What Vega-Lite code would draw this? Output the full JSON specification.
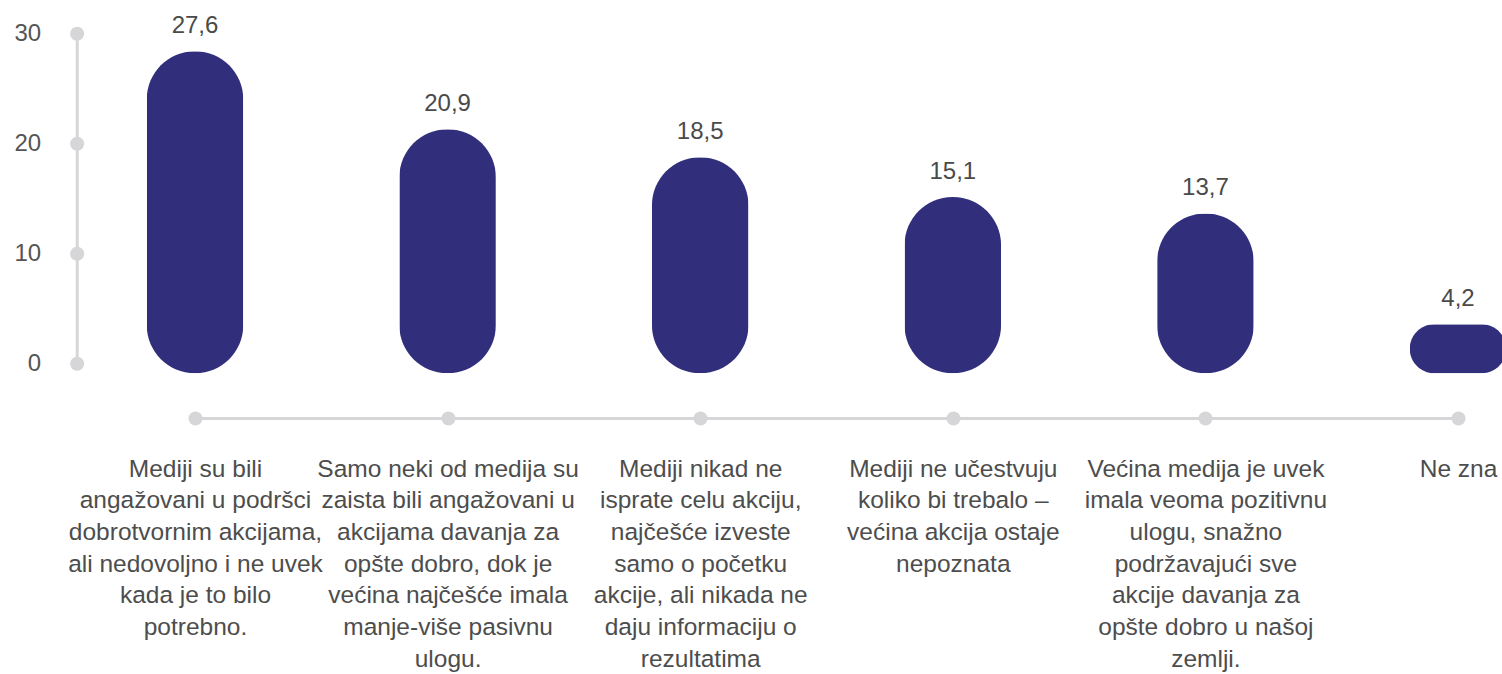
{
  "$schema": "https://vega.github.io/schema/vega-lite/v6.json",
  "width": 1263,
  "height": 330,
  "autosize": {"type": "none"},
  "padding": {"left": 195, "top": 33.3, "right": 44, "bottom": 310.7},
  "background": "white",
  "config": {
    "view": {"stroke": null},
    "font": "Liberation Sans",
    "locale": {"number": {"decimal": ",", "thousands": ".", "grouping": [3], "currency": ["", " €"]}}
  },
  "data": {
    "values": [
      {"answer": "Mediji su bili|angažovani u podršci|dobrotvornim akcijama,|ali nedovoljno i  ne uvek|kada je to bilo|potrebno.", "value": 27.6},
      {"answer": "Samo neki od medija su|zaista bili angažovani u|akcijama davanja za|opšte dobro, dok je|većina najčešće imala|manje-više pasivnu|ulogu.", "value": 20.9},
      {"answer": "Mediji nikad ne|isprate celu akciju,|najčešće izveste|samo o početku|akcije, ali nikada ne|daju informaciju o|rezultatima", "value": 18.5},
      {"answer": "Mediji ne učestvuju|koliko bi trebalo –|većina akcija ostaje|nepoznata", "value": 15.1},
      {"answer": "Većina medija je uvek|imala veoma pozitivnu|ulogu, snažno|podržavajući sve|akcije davanja za|opšte dobro u našoj|zemlji.", "value": 13.7},
      {"answer": "Ne zna", "value": 4.2}
    ]
  },
  "encoding": {
    "x": {
      "field": "answer",
      "type": "nominal",
      "sort": null,
      "scale": {"type": "point", "padding": 0},
      "axis": {
        "title": null,
        "offset": 54.7,
        "domain": true,
        "domainColor": "#d6d6d9",
        "domainWidth": 3,
        "ticks": true,
        "tickColor": "#d6d6d9",
        "tickWidth": 14,
        "tickSize": 0.1,
        "tickCap": "round",
        "labelExpr": "split(datum.label, '|')",
        "labelAngle": 0,
        "labelFontSize": 24.5,
        "labelColor": "#4d4d4d",
        "labelPadding": 39,
        "labelLineHeight": 31.7,
        "labelLimit": 0,
        "labelOverlap": false,
        "labelBound": false,
        "labelAlign": "center",
        "labelBaseline": "top",
        "labelFlush": false
      }
    }
  },
  "layer": [
    {
      "mark": {"type": "bar", "width": 96.5, "cornerRadius": 48, "color": "#312f7b"},
      "encoding": {
        "y": {"field": "value", "type": "quantitative", "scale": {"domain": [0.857, 29.13], "zero": false, "nice": false}, "axis": null}
      }
    },
    {
      "mark": {"type": "text", "dy": -25, "baseline": "middle", "fontSize": 24, "color": "#4a4a4a"},
      "encoding": {
        "y": {"field": "value", "type": "quantitative", "scale": {"domain": [0.857, 29.13], "zero": false, "nice": false}, "axis": null},
        "text": {"field": "value", "type": "quantitative", "format": ".1f"}
      }
    },
    {
      "mark": {"type": "point", "opacity": 0},
      "encoding": {
        "y": {
          "field": "value",
          "type": "quantitative",
          "scale": {"domain": [0, 30], "nice": false},
          "axis": {
            "title": null,
            "offset": 118.3,
            "values": [0, 10, 20, 30],
            "grid": false,
            "domain": true,
            "domainColor": "#d6d6d9",
            "domainWidth": 3,
            "ticks": true,
            "tickColor": "#d6d6d9",
            "tickWidth": 14,
            "tickSize": 0.1,
            "tickCap": "round",
            "labelPadding": 36,
            "labelFontSize": 24,
            "labelColor": "#555555"
          }
        }
      }
    }
  ],
  "resolve": {"scale": {"y": "independent"}}
}
